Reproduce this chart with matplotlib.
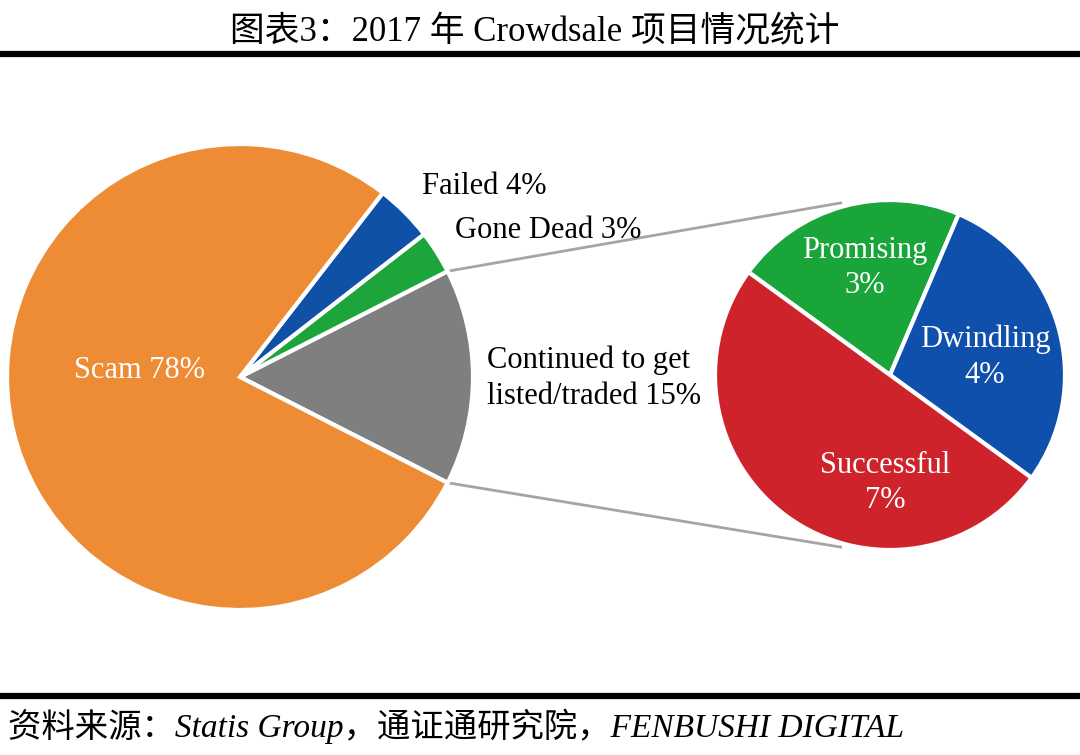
import numpy as np
import matplotlib.pyplot as plt

# data
main_labels = ['Continued to get\nlisted/traded', 'Gone Dead', 'Failed', 'Scam']
main_values = [15, 3, 4, 78]
main_colors = ['#7f7f7f', '#1ba53a', '#1051a8', '#ee8b35']

sub_labels = ['Promising', 'Dwindling', 'Successful']
sub_values = [3, 4, 7]
sub_colors = ['#1aa53a', '#0f50ad', '#cf232b']

title = '图表3：2017 年 Crowdsale 项目情况统计'
source = '资料来源：Statis Group，通证通研究院，FENBUSHI DIGITAL'

W, H = 1080, 755
fonts = ['Liberation Serif', 'Noto Sans CJK SC', 'DejaVu Sans']

fig = plt.figure(figsize=(W / 100, H / 100), dpi=100)
ax = fig.add_axes([0, 0, 1, 1])


def py(y):
    # pixel row -> data y
    return H - y


# left pie
c1 = (240, py(377))
r1 = 233
w1, _ = ax.pie(main_values, colors=main_colors, startangle=-27, counterclock=True,
               center=c1, radius=r1,
               wedgeprops=dict(edgecolor='white', linewidth=3))

# right pie
c2 = (890, py(375))
r2 = 175
w2, _ = ax.pie(sub_values, colors=sub_colors, startangle=144, counterclock=False,
               center=c2, radius=r2,
               wedgeprops=dict(edgecolor='white', linewidth=3))

# connector lines from the grey wedge to the right pie
g = w1[0]
for a1, a2 in [(g.theta2, 106), (g.theta1, -106)]:
    x0 = c1[0] + r1 * np.cos(np.radians(a1))
    y0 = c1[1] + r1 * np.sin(np.radians(a1))
    x1 = c2[0] + (r2 + 4) * np.cos(np.radians(a2))
    y1 = c2[1] + (r2 + 4) * np.sin(np.radians(a2))
    ax.plot([x0, x1], [y0, y1], color='#a5a5a5', lw=2, zorder=0)

fs = 22
# left pie labels
ax.text(139, py(370), f'{main_labels[3]} {main_values[3]}%', color='white',
        fontsize=fs, family=fonts, ha='center', va='center')
ax.text(422, py(186), f'{main_labels[2]} {main_values[2]}%', color='black',
        fontsize=fs, family=fonts, ha='left', va='center')
ax.text(455, py(230), f'{main_labels[1]} {main_values[1]}%', color='black',
        fontsize=fs, family=fonts, ha='left', va='center')
ax.text(487, py(378), f'{main_labels[0]} {main_values[0]}%', color='black',
        fontsize=fs, family=fonts, ha='left', va='center', linespacing=1.3)

# right pie labels
sub_pos = [(865, 268), (985, 357), (885, 483)]
for lab, v, (x, y) in zip(sub_labels, sub_values, sub_pos):
    ax.text(x, py(y), f'{lab}\n{v}%', color='white', fontsize=fs, family=fonts,
            ha='center', va='center', linespacing=1.3)

# title, rules and source
ax.text(535, py(32), title, fontsize=25, family=fonts, ha='center', va='center')
ax.plot([0, W], [py(54), py(54)], color='black', lw=4.5, solid_capstyle='butt')
ax.plot([0, W], [py(696), py(696)], color='black', lw=4.5, solid_capstyle='butt')
ax.text(8, py(726), source, fontsize=24, family=fonts, style='italic',
        ha='left', va='center')

ax.set_xlim(0, W)
ax.set_ylim(0, H)
ax.set_aspect('auto')
ax.axis('off')

fig.savefig('out.png', dpi=100, facecolor='white')
